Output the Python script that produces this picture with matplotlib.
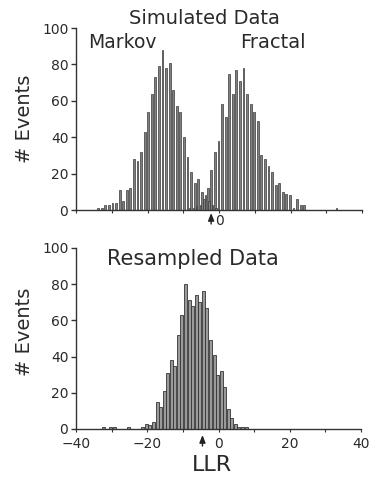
import numpy as np
import matplotlib
matplotlib.use('Agg')
import matplotlib.pyplot as plt

# ---- data ----
markov_bins = list(range(-34, 0))
markov_counts = [1, 1, 3, 3, 4, 4, 11, 5, 11, 12, 28, 27, 32, 43, 54, 64, 73,
                 79, 88, 78, 81, 66, 57, 54, 40, 29, 21, 15, 17, 10, 8, 5, 3, 1]

fractal_bins = list(range(-8, 25)) + [33]
fractal_counts = [1, 1, 2, 3, 6, 12, 22, 32, 38, 58, 51, 75, 64, 77, 71, 78,
                  64, 58, 54, 49, 30, 28, 24, 21, 14, 15, 10, 9, 8, 1, 6, 3, 3, 1]

resamp_bins = [-32, -30, -29, -25] + list(range(-21, 9))
resamp_counts = [1, 1, 1, 1, 1, 3, 2, 4, 15, 12, 21, 31, 38, 35, 52, 63, 80,
                 71, 68, 74, 70, 76, 67, 49, 41, 30, 32, 23, 11, 6, 3, 1, 1, 1]

x_ticks = list(range(-40, 41, 10))
y_ticks = [0, 20, 40, 60, 80, 100]
top_xlabels = ['', '', '', '', '0', '', '', '', '']
bot_xlabels = ['\u221240', '', '\u221220', '', '0', '', '20', '', '40']
top_arrow_x = -2.2
bot_arrow_x = -4.5

plt.rcParams['font.family'] = ['DejaVu Sans']
TXT = '#2a2a2a'

fig = plt.figure(figsize=(3.7, 4.78), dpi=100)
ax1 = fig.add_axes([76/370, 1-210/478, 286/370, 182/478])
ax2 = fig.add_axes([76/370, 1-429/478, 285/370, 181/478])

for ax in (ax1, ax2):
    ax.set_xlim(-40, 40)
    ax.set_ylim(0, 100)
    for s in ('top', 'right'):
        ax.spines[s].set_visible(False)
    for s in ('left', 'bottom'):
        ax.spines[s].set_color('#333333')
        ax.spines[s].set_linewidth(1.0)
    ax.set_yticks(y_ticks)
    ax.set_xticks(x_ticks)
    ax.tick_params(axis='y', direction='out', length=3.5, width=1.0,
                   pad=2, labelsize=10, colors='#333333', labelcolor=TXT)
    ax.tick_params(axis='x', direction='out', length=2, width=0.8,
                   colors='#333333', labelcolor=TXT, labelsize=10)

ax1.set_xticklabels(top_xlabels)
ax1.tick_params(axis='x', pad=1)
ax2.set_xticklabels(bot_xlabels)
ax2.tick_params(axis='x', pad=3.5)

# top panel bars
ax1.bar(np.array(fractal_bins) - 0.15, fractal_counts, width=0.5,
        facecolor='#808080', edgecolor='#3a3a3a', linewidth=0.5, zorder=2)
ax1.bar(np.array(markov_bins) + 0.2, markov_counts, width=0.5,
        facecolor='#808080', edgecolor='#3a3a3a', linewidth=0.5, zorder=2)

# bottom panel bars
ax2.bar(np.array(resamp_bins) - 0.25, resamp_counts, width=0.85,
        facecolor='#9a9a9a', edgecolor='#333333', linewidth=0.6, zorder=2)

# arrows
arrow_kw = dict(arrowstyle='-|>,head_length=0.45,head_width=0.18',
                color='#222222', lw=1.0, shrinkA=0, shrinkB=0)
ax1.annotate('', xy=(top_arrow_x, -3), xycoords=('data', 'axes pixels'),
             xytext=(top_arrow_x, -14), textcoords=('data', 'axes pixels'),
             arrowprops=arrow_kw, annotation_clip=False)
ax2.annotate('', xy=(bot_arrow_x, -6), xycoords=('data', 'axes pixels'),
             xytext=(bot_arrow_x, -17), textcoords=('data', 'axes pixels'),
             arrowprops=arrow_kw, annotation_clip=False)

# texts
fig.text(25/370, 1-119/478, '# Events', rotation=90, ha='center', va='center',
         fontsize=14, color=TXT)
fig.text(25/370, 1-332/478, '# Events', rotation=90, ha='center', va='center',
         fontsize=14, color=TXT)
fig.text(204/370, 1-19/478, 'Simulated Data', ha='center', va='center',
         fontsize=14, color=TXT)
fig.text(122/370, 1-42/478, 'Markov', ha='center', va='center',
         fontsize=13.5, color=TXT)
fig.text(273/370, 1-43/478, 'Fractal', ha='center', va='center',
         fontsize=14, color=TXT)
fig.text(193/370, 1-259/478, 'Resampled Data', ha='center', va='center',
         fontsize=15, color=TXT)
fig.text(212/370, 1-465/478, 'LLR', ha='center', va='center',
         fontsize=16, color=TXT)

fig.savefig('out.png', dpi=100, facecolor='white')
